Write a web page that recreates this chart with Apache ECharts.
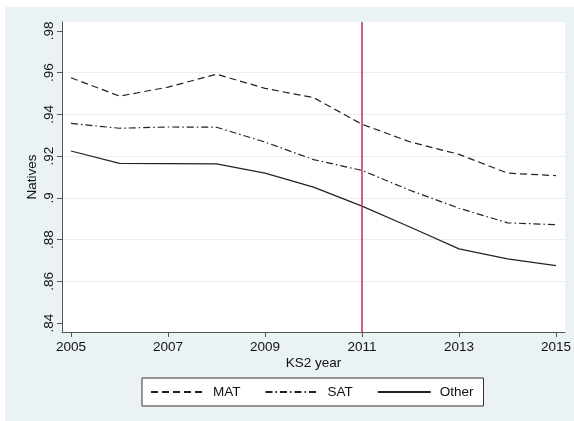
<!DOCTYPE html>
<html>
<head>
<meta charset="utf-8">
<script src="https://cdn.jsdelivr.net/npm/echarts@6/dist/echarts.min.js"></script>
<style>
  body { margin: 0; background: #fff; }
  #main { position: absolute; left: 5px; top: 7px; width: 569px; height: 414px; }
</style>
</head>
<body>
<div id="main"></div>
<script>
const years = [2005, 2006, 2007, 2008, 2009, 2010, 2011, 2012, 2013, 2014, 2015]
const matData = [0.9575, 0.9487, 0.9530, 0.9592, 0.9524, 0.9480, 0.9352, 0.9267, 0.9208, 0.9118, 0.9106]
const satData = [0.9356, 0.9333, 0.9339, 0.9338, 0.9267, 0.9183, 0.9131, 0.9035, 0.8950, 0.8880, 0.8871]
const otherData = [0.9224, 0.9165, 0.9164, 0.9162, 0.9118, 0.9051, 0.8960, 0.8859, 0.8755, 0.8707, 0.8675]
const xTicks = [2005, 2007, 2009, 2011, 2013, 2015]
const yTicks = [0.84, 0.86, 0.88, 0.90, 0.92, 0.94, 0.96, 0.98]
const cutYear = 2011

const font = 'Liberation Sans, Arial, Helvetica, sans-serif'

function pairs (vals) {
  return years.map((y, i) => [y, vals[i]])
}

let chart = echarts.init(document.getElementById('main'))
let gridColor = '#e8eff2'
let option = {
  animation: false,
  backgroundColor: '#eaf2f3',
  textStyle: { fontFamily: font },
  grid: {
    left: 57,
    right: 9,
    top: 15,
    bottom: 89,
    show: true,
    backgroundColor: '#fff',
    borderWidth: 0
  },
  legend: {
    left: 137,
    top: 371,
    itemWidth: 53,
    itemHeight: 14,
    itemGap: 24,
    padding: [7, 10, 7, 8],
    backgroundColor: '#fff',
    borderColor: '#333',
    borderWidth: 1,
    itemStyle: { opacity: 0 },
    textStyle: { fontSize: 13.5, color: '#111', fontFamily: font, padding: [0, 0, 0, 4] },
    data: ['MAT', 'SAT', 'Other']
  },
  xAxis: {
    type: 'value',
    min: 2004.815,
    max: 2015.185,
    name: 'KS2 year',
    nameLocation: 'middle',
    nameGap: 24,
    nameMoveOverlap: false,
    nameTextStyle: { fontSize: 13.5, color: '#111', fontFamily: font },
    axisLine: { lineStyle: { color: '#555', width: 1 } },
    axisTick: { customValues: xTicks, length: 5, lineStyle: { color: '#555' } },
    axisLabel: {
      customValues: xTicks,
      margin: 8,
      fontSize: 13.5,
      color: '#111',
      fontFamily: font,
      formatter: v => String(v)
    },
    splitLine: { show: false }
  },
  yAxis: {
    type: 'value',
    min: 0.8357,
    max: 0.9842,
    name: 'Natives',
    nameLocation: 'middle',
    nameGap: 23,
    nameMoveOverlap: false,
    nameTextStyle: { fontSize: 13.5, color: '#111', fontFamily: font },
    axisLine: { show: true, lineStyle: { color: '#555', width: 1 } },
    axisTick: { show: true, customValues: yTicks, length: 5, lineStyle: { color: '#555' } },
    axisLabel: {
      customValues: yTicks,
      rotate: 90,
      margin: 6,
      fontSize: 13.5,
      color: '#111',
      fontFamily: font,
      formatter: v => v.toFixed(2).replace(/^0/, '').replace(/0$/, '')
    },
    splitLine: {
      show: true,
      lineStyle: {
        // no grid line at the first and last tick
        color: ['rgba(0,0,0,0)', gridColor, gridColor, gridColor, gridColor, gridColor, gridColor, 'rgba(0,0,0,0)'],
        width: 1
      }
    }
  },
  series: [
    {
      name: 'MAT',
      type: 'line',
      data: pairs(matData),
      symbol: 'none',
      color: '#222',
      lineStyle: { color: '#222', width: 1.2, type: [7, 4] }
    },
    {
      name: 'SAT',
      type: 'line',
      data: pairs(satData),
      symbol: 'none',
      color: '#222',
      lineStyle: { color: '#222', width: 1.2, type: [7, 3, 1.5, 3] }
    },
    {
      name: 'Other',
      type: 'line',
      data: pairs(otherData),
      symbol: 'none',
      color: '#222',
      lineStyle: { color: '#222', width: 1.2, type: 'solid' },
      markLine: {
        silent: true,
        symbol: ['none', 'none'],
        label: { show: false },
        lineStyle: { color: '#c2304f', width: 1.5, type: 'solid' },
        data: [{ xAxis: cutYear }]
      }
    }
  ]
}
chart.setOption(option)
</script>
</body>
</html>
